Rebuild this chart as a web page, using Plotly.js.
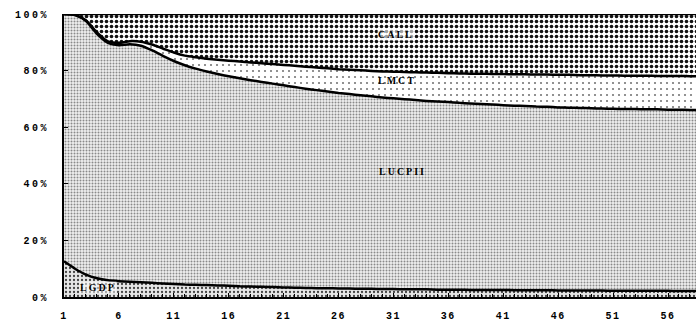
<!DOCTYPE html>
<html>
<head>
<meta charset="utf-8">
<script src="https://cdn.plot.ly/plotly-3.0.1.min.js"></script>
<style>
html, body { margin: 0; padding: 0; background: #fff; }
#chart { width: 696px; height: 323px; }
.ytick text { letter-spacing: 2.5px; }
.xtick text { letter-spacing: 1.5px; }
.annotation-text { letter-spacing: 2px; }
</style>
</head>
<body>
<div id="chart"></div>
<script>
// Periods (x axis)
const periods = [1,2,3,4,5,6,7,8,9,10,11,12,13,14,15,16,17,18,19,20,21,22,23,24,25,26,27,28,29,30,
  31,32,33,34,35,36,37,38,39,40,41,42,43,44,45,46,47,48,49,50,51,52,53,54,55,56,57,58,59];

// Shares (%) of each component
const LGDP = [12.6,10.0,7.9,6.6,5.9,5.6,5.4,5.2,5.0,4.8,4.6,4.4,4.3,4.2,4.1,4.0,3.8,3.7,3.6,3.5,
  3.4,3.3,3.2,3.1,3.1,3.0,3.0,2.9,2.9,2.8,2.8,2.7,2.7,2.7,2.6,2.6,2.6,2.5,2.5,2.5,
  2.5,2.4,2.4,2.4,2.4,2.3,2.3,2.3,2.3,2.3,2.2,2.2,2.2,2.2,2.2,2.2,2.1,2.1,2.1];
const LUCPII = [87.4,89.6,89.6,86.4,83.9,83.4,83.9,83.6,82.2,80.4,78.8,77.5,76.4,75.5,74.7,74.0,73.5,72.9,72.4,71.9,
  71.4,70.9,70.4,70.0,69.5,69.1,68.7,68.4,68.0,67.7,67.4,67.2,66.9,66.6,66.5,66.3,66.0,65.9,65.7,65.5,
  65.3,65.2,65.1,64.9,64.8,64.7,64.6,64.5,64.4,64.3,64.3,64.2,64.2,64.1,64.1,64.0,64.1,64.0,64.0];
const LMCT = [0,0.1,0.3,0.5,0.5,0.8,1.1,1.4,2.0,2.6,3.0,3.4,4.0,4.5,5.0,5.5,5.9,6.3,6.6,6.9,
  7.2,7.5,7.8,8.0,8.2,8.4,8.6,8.8,9.0,9.2,9.4,9.6,9.8,10.0,10.1,10.2,10.4,10.5,10.7,10.8,
  11.0,11.1,11.2,11.3,11.4,11.5,11.6,11.6,11.7,11.7,11.8,11.8,11.8,11.9,11.8,11.9,11.9,11.9,11.9];
const CALL = [0,0.3,2.2,6.5,9.7,10.2,9.6,9.8,10.8,12.2,13.6,14.7,15.3,15.8,16.2,16.5,16.8,17.1,17.4,17.7,
  18.0,18.3,18.6,18.9,19.2,19.5,19.7,19.9,20.1,20.3,20.4,20.5,20.6,20.7,20.8,20.9,21.0,21.1,21.1,21.2,
  21.2,21.3,21.3,21.4,21.4,21.5,21.5,21.6,21.6,21.7,21.7,21.8,21.8,21.8,21.9,21.9,21.9,22.0,22.0];

const xTicks = [1,6,11,16,21,26,31,36,41,46,51,56];
const yTicks = [0,20,40,60,80,100];
const yTickText = ['0%','20%','40%','60%','80%','100%'];

// Labels inside the areas
const labelNames = ['CALL','LMCT','LUCPII','LGDP'];
const labelX = [31.2,31.3,31.8,4.1];
const labelY = [92.9,76.4,44.2,3.2];
const labelBg = ['rgba(255,255,255,0.6)','rgba(255,255,255,0)','rgba(255,255,255,0)','rgba(255,255,255,0.5)'];

const lineStyle = {color: '#000', width: 2.5, shape: 'spline', smoothing: 0.6};

function area(name, y, pattern) {
  return {
    type: 'scatter', mode: 'lines', name: name, x: periods, y: y,
    stackgroup: 'one', line: lineStyle,
    fillcolor: pattern.bgcolor,
    fillpattern: pattern, hoverinfo: 'skip'
  };
}

const data = [
  area('LGDP', LGDP, {shape: '.', fgcolor: '#444', bgcolor: '#e6e6e6', size: 4, solidity: 0.25}),
  area('LUCPII', LUCPII, {shape: '.', fgcolor: '#8a8a8a', bgcolor: '#f0f0f0', size: 3, solidity: 0.35}),
  area('LMCT', LMCT, {shape: '.', fgcolor: '#777', bgcolor: '#ffffff', size: 6, solidity: 0.1}),
  area('CALL', CALL, {shape: '.', fgcolor: '#111', bgcolor: '#ffffff', size: 5, solidity: 0.42})
];

const tickFont = {family: 'Liberation Mono, monospace', size: 10, color: '#000', weight: 'bold'};

const layout = {
  width: 696, height: 323,
  margin: {l: 64, r: 0, t: 14, b: 26, pad: 0},
  paper_bgcolor: '#fff', plot_bgcolor: '#fff',
  showlegend: false,
  xaxis: {
    range: [1, 58.55], showgrid: false, zeroline: false,
    showline: true, linecolor: '#000', linewidth: 2,
    tickmode: 'array', tickvals: xTicks, ticks: 'inside', ticklen: 4, tickcolor: '#000',
    minor: {ticks: 'inside', dtick: 1, ticklen: 3, tickcolor: '#000'},
    tickfont: tickFont, ticklabelstandoff: 8
  },
  yaxis: {
    range: [0, 100], showgrid: false, zeroline: false,
    showline: true, linecolor: '#000', linewidth: 2,
    tickmode: 'array', tickvals: yTicks, ticktext: yTickText,
    ticks: 'inside', ticklen: 4, tickcolor: '#000',
    tickfont: tickFont, ticklabelstandoff: 11
  },
  annotations: labelNames.map((t, i) => ({
    x: labelX[i], y: labelY[i], xref: 'x', yref: 'y', text: t, showarrow: false,
    bgcolor: labelBg[i], borderpad: 0,
    font: {family: 'Liberation Serif, serif', size: 10, color: '#000', weight: 'bold'}
  }))
};

Plotly.newPlot('chart', data, layout, {staticPlot: true, displayModeBar: false});
</script>
</body>
</html>
